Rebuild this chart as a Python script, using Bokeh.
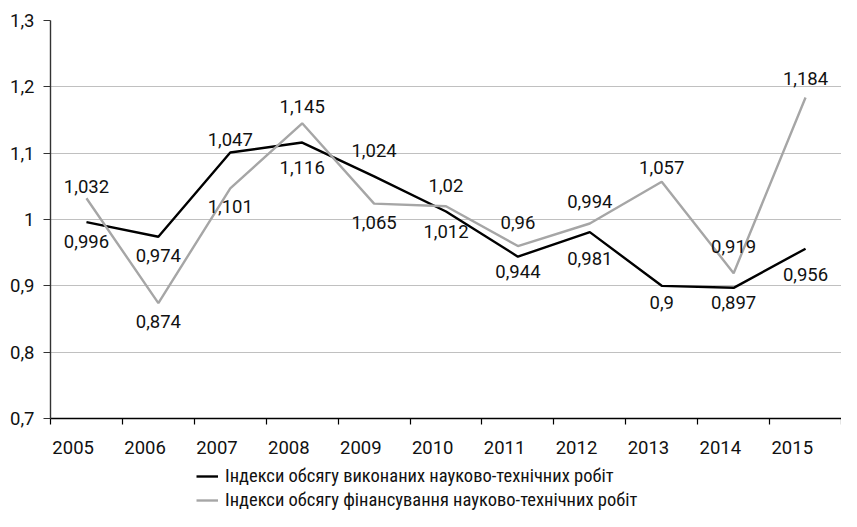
from bokeh.plotting import figure
from bokeh.layouts import column
from bokeh.models import (Range1d, FixedTicker, Legend, LegendItem, ColumnDataSource,
                          CustomJSTickFormatter)
from bokeh.core.properties import value
from bokeh.embed import file_html
from bokeh.resources import INLINE

# ---------------- data ----------------
years = ["2005", "2006", "2007", "2008", "2009", "2010", "2011", "2012", "2013", "2014", "2015"]
works_index = [0.996, 0.974, 1.101, 1.116, 1.065, 1.012, 0.944, 0.981, 0.900, 0.897, 0.956]
funding_index = [1.032, 0.874, 1.047, 1.145, 1.024, 1.020, 0.960, 0.994, 1.057, 0.919, 1.184]
y_ticks = [0.7, 0.8, 0.9, 1.0, 1.1, 1.2, 1.3]
y_tick_labels = ["0,7", "0,8", "0,9", "1", "1,1", "1,2", "1,3"]
series_names = ["Індекси обсягу виконаних науково-технічних робіт",
                "Індекси обсягу фінансування науково-технічних робіт"]

# label placement (screen px, positive = downward), as in the source layout
works_label_shift = [19, 19, 54, 25, 46, 20, 15, 26, 17, 15, 26]
funding_label_shift = [-12, 18, -49, -17, -53, -21, -24, -22, -14, -27, -19]

# ---------------- style ----------------
FONT = "Roboto"
LFONT = "Roboto Condensed"
FS = "18.5px"
TXT = "#111111"
BLACK = "#000000"
GREY = "#a6a6a6"

n = len(years)
xc = [i + 0.5 for i in range(n)]


def fmt(v):
    return f"{v:g}".replace(".", ",")


p = figure(width=841, height=463, x_range=Range1d(0, n), y_range=Range1d(0.7, 1.3),
           output_backend="svg", toolbar_location=None,
           min_border_left=50, min_border_right=0, min_border_top=20, min_border_bottom=45)
p.outline_line_color = None
p.background_fill_color = "white"
p.border_fill_color = "white"

p.xgrid.visible = False
p.ygrid.ticker = FixedTicker(ticks=y_ticks)
p.ygrid.grid_line_color = "#c0c0c0"
p.ygrid.grid_line_width = 1.2

# y axis
yax = p.yaxis[0]
yax.ticker = FixedTicker(ticks=y_ticks)
yax.formatter = CustomJSTickFormatter(args=dict(yvals=y_ticks, ylabs=y_tick_labels), code="""
    for (let i = 0; i < yvals.length; i++) { if (Math.abs(yvals[i] - tick) < 1e-9) return ylabs[i]; }
    return "";
""")
yax.major_tick_out = 7
yax.major_tick_in = 0
yax.minor_tick_out = 0
yax.minor_tick_in = 0
yax.major_label_standoff = 9
yax.axis_line_color = "#333333"
yax.axis_line_width = 1.4
yax.major_tick_line_color = "#333333"
yax.major_tick_line_width = 1.2
yax.major_label_text_font = FONT
yax.major_label_text_font_size = FS
yax.major_label_text_color = TXT

# x axis: labels at category positions (shifted slightly left), ticks at boundaries
xax = p.xaxis[0]
label_pos = [i + 0.5 - 0.185 for i in range(n)]
xax.ticker = FixedTicker(ticks=label_pos, minor_ticks=list(range(n + 1)))
xax.formatter = CustomJSTickFormatter(args=dict(yrs=years), code="return yrs[Math.floor(tick)];")
xax.major_tick_line_color = None
xax.major_tick_out = 6
xax.major_tick_in = 0
xax.minor_tick_out = 6
xax.minor_tick_in = 0
xax.minor_tick_line_color = BLACK
xax.minor_tick_line_width = 1.2
xax.major_label_standoff = 16
xax.axis_line_color = BLACK
xax.axis_line_width = 1.4
xax.major_label_text_font = FONT
xax.major_label_text_font_size = FS
xax.major_label_text_color = TXT

# lines
src = ColumnDataSource(dict(x=xc, works=works_index, funding=funding_index,
                            wl=[fmt(v) for v in works_index], fl=[fmt(v) for v in funding_index],
                            wo=works_label_shift, fo=funding_label_shift))
r_work = p.line("x", "works", source=src, line_color=BLACK, line_width=2.4)
r_fund = p.line("x", "funding", source=src, line_color=GREY, line_width=2.4)

p.text("x", "works", text="wl", y_offset="wo", source=src, text_align="center",
       text_baseline="middle", text_font=value(FONT), text_font_size=FS, text_color=TXT)
p.text("x", "funding", text="fl", y_offset="fo", source=src, text_align="center",
       text_baseline="middle", text_font=value(FONT), text_font_size=FS, text_color=TXT)

# legend strip below the chart (same series drawn outside its visible range,
# only their legend swatches show)
q = figure(width=841, height=48, x_range=Range1d(-3, -2), y_range=Range1d(-3, -2),
           output_backend="svg", toolbar_location=None,
           x_axis_location=None, y_axis_location=None,
           min_border_left=0, min_border_right=0, min_border_top=0, min_border_bottom=0)
q.grid.visible = False
q.outline_line_color = None
lg_work = q.line("x", "works", source=src, line_color=BLACK, line_width=2.4)
lg_fund = q.line("x", "funding", source=src, line_color=GREY, line_width=2.4)

legend = Legend(items=[LegendItem(label=series_names[0], renderers=[lg_work]),
                       LegendItem(label=series_names[1], renderers=[lg_fund])],
                location=(146, 0), orientation="vertical",
                border_line_color=None, background_fill_alpha=0,
                label_text_font=LFONT, label_text_font_size=FS, label_text_color=TXT,
                glyph_width=22, glyph_height=20, label_height=20, label_standoff=7,
                spacing=2, padding=0, margin=0)
q.add_layout(legend, "center")

layout = column(p, q, spacing=0)
open("out.html", "w").write(file_html(layout, INLINE))
